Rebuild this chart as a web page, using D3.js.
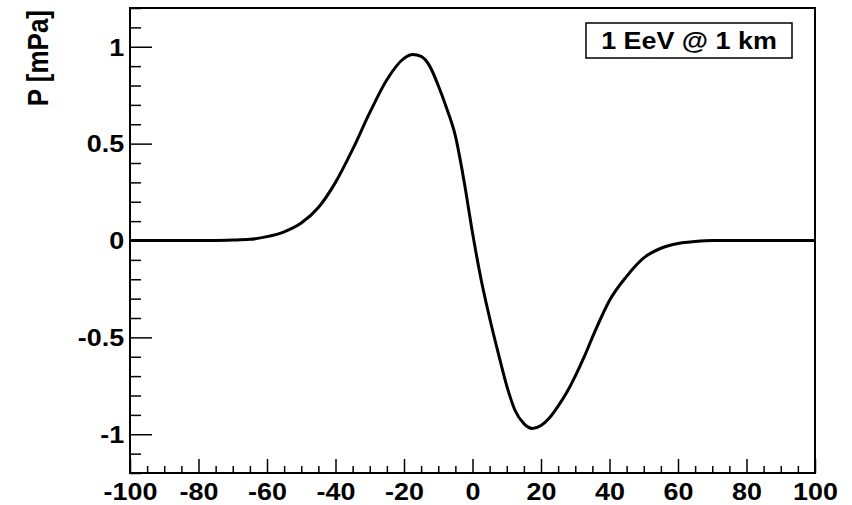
<!DOCTYPE html>
<html lang="en">
<head>
  <meta charset="UTF-8" />
  <title>P [mPa] pulse</title>
  <style>
    html, body { margin: 0; padding: 0; background: #fff; }
    svg { display: block; font-family: "Liberation Sans", Arial, sans-serif; font-weight: bold; }
    .tick line { stroke: #000; stroke-width: 1.5px; }
    .tick text { fill: #000; font-size: 23px; }
  </style>
</head>
<body>
  <svg width="852" height="505"></svg>
  <script src="https://d3js.org/d3.v7.min.js"></script>
  <script>
    // time axis
    const tValues = [-100, -90, -80, -75, -70, -65, -60, -55, -50, -45, -40, -35, -30, -25, -20, -17.5,
      -15, -12.5, -10, -7.5, -5, -2.5, 0, 2.5, 5, 7.5, 10, 12.5, 15, 17.5, 20, 22.5, 25, 27.5, 30,
      32.5, 35, 37.5, 40, 45, 50, 55, 60, 65, 70, 75, 80, 90, 100];
    // pressure in mPa
    const pValues = [0, 0, 0, 0, 0.002, 0.006, 0.02, 0.045, 0.09, 0.17, 0.3, 0.47, 0.66, 0.83, 0.94, 0.96,
      0.95, 0.9, 0.8, 0.68, 0.54, 0.31, 0.04, -0.2, -0.4, -0.58, -0.75, -0.88, -0.945, -0.97, -0.955,
      -0.915, -0.855, -0.785, -0.7, -0.605, -0.5, -0.4, -0.31, -0.185, -0.09, -0.04, -0.015, -0.005, 0, 0, 0, 0, 0];
    const xMajorTicks = [-100, -80, -60, -40, -20, 0, 20, 40, 60, 80, 100];
    const yMajorTicks = [-1, -0.5, 0, 0.5, 1];
    const yTitle = "P [mPa]";
    const legendText = "1 EeV @ 1 km";

    const svg = d3.select("svg");
    const padL = 130, padR = 815, padT = 8, padB = 473;
    const stretch = 1.17; // the original picture is a bit wider than tall

    const x = d3.scaleLinear().domain([-100, 100]).range([padL, padR]);
    const y = d3.scaleLinear().domain([-1.2, 1.2]).range([padB, padT]);

    const xMinor = d3.range(-95, 100, 5).filter(v => v % 20 !== 0);
    const yMinor = d3.range(-12, 13).map(v => v / 10).filter(v => Math.abs(v * 2 - Math.round(v * 2)) > 1e-6);

    // minor ticks
    svg.append("g")
      .attr("transform", `translate(0,${padB})`)
      .call(d3.axisBottom(x).tickValues(xMinor).tickSize(-7).tickFormat(""))
      .call(g => g.select(".domain").remove());
    svg.append("g")
      .attr("transform", `translate(${padL},0)`)
      .call(d3.axisLeft(y).tickValues(yMinor).tickSize(-11).tickFormat(""))
      .call(g => g.select(".domain").remove());

    // major ticks + labels
    svg.append("g")
      .attr("transform", `translate(0,${padB})`)
      .call(d3.axisBottom(x).tickValues(xMajorTicks).tickSize(-14).tickFormat(d => String(d)))
      .call(g => g.select(".domain").remove())
      .call(g => g.selectAll("text")
        .attr("y", 27).attr("dy", null)
        .attr("transform", `scale(${stretch},1)`));
    svg.append("g")
      .attr("transform", `translate(${padL},0)`)
      .call(d3.axisLeft(y).tickValues(yMajorTicks).tickSize(-22).tickFormat(d => String(d)))
      .call(g => g.select(".domain").remove())
      .call(g => g.selectAll("text")
        .attr("x", -5).attr("dy", "0.36em")
        .attr("transform", `scale(${stretch},1)`));

    // the curve
    const line = d3.line()
      .x((d, i) => x(tValues[i]))
      .y(d => y(d))
      .curve(d3.curveMonotoneX);
    svg.append("path")
      .datum(pValues)
      .attr("d", line)
      .attr("fill", "none")
      .attr("stroke", "#000")
      .attr("stroke-width", 3)
      .attr("stroke-linejoin", "round");

    // frame
    svg.append("rect")
      .attr("x", padL).attr("y", padT)
      .attr("width", padR - padL).attr("height", padB - padT)
      .attr("fill", "none").attr("stroke", "#000").attr("stroke-width", 2);

    // y title
    svg.append("text")
      .attr("transform", `translate(48,${padT + 2}) scale(${stretch},1) rotate(-90)`)
      .attr("text-anchor", "end")
      .attr("font-size", 26)
      .text(yTitle);

    // legend box
    svg.append("rect")
      .attr("x", 586).attr("y", 23).attr("width", 206).attr("height", 35)
      .attr("fill", "#fff").attr("stroke", "#000").attr("stroke-width", 1.5);
    svg.append("text")
      .attr("transform", `translate(689,49) scale(${stretch},1)`)
      .attr("text-anchor", "middle")
      .attr("font-size", 23)
      .text(legendText);
  </script>
</body>
</html>
